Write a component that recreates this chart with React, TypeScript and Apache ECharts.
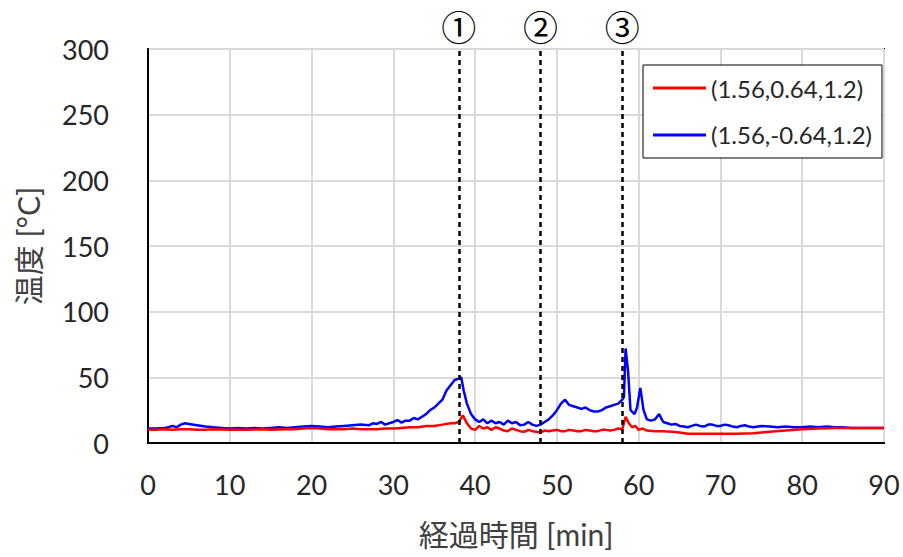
import React, { useEffect, useRef } from "react";
import * as echarts from "echarts";

const seriesNames = ["(1.56,0.64,1.2)", "(1.56,-0.64,1.2)"];
const seriesColors = ["#ff0000", "#0000ff"];

// [minutes, °C]
const redData: [number, number][] = [
  [0, 10], [1, 10], [2, 10.5], [3, 10], [4, 10.5], [5, 10.5], [6, 10], [7, 10],
  [8, 10.5], [10, 10], [12, 10], [14, 10.5], [15, 10], [17, 10.5], [18, 10.5],
  [19, 11], [20, 11.5], [21, 11], [22, 10.5], [24, 10.5], [25, 11], [26, 10.5],
  [28, 10.5], [29, 11], [30, 11], [31, 11.5], [32, 12], [33, 12], [34, 13],
  [35, 13], [36, 14], [37, 15], [37.5, 15], [38, 16], [38.5, 21], [39, 15],
  [39.5, 11], [40, 10], [40.5, 13], [41, 11], [41.5, 12], [42, 10], [42.5, 12],
  [43, 11], [43.5, 9.5], [44, 9], [44.5, 11], [45, 10], [45.5, 9], [46, 8.5],
  [46.5, 10], [47, 9], [47.5, 8.5], [48, 8], [48.5, 9.5], [49, 9], [49.5, 9.5],
  [50, 10], [50.5, 9], [51, 9], [51.5, 10], [52, 9.5], [52.5, 9], [53, 9],
  [53.5, 10], [54, 9.5], [54.5, 9], [55, 9], [55.5, 10], [56, 10], [56.5, 9.5],
  [57, 10], [57.5, 11], [58, 10.5], [58.4, 20], [58.8, 15], [59.2, 12],
  [59.6, 13], [60, 10], [60.5, 11], [61, 9.5], [62, 9], [63, 9], [64, 8.5],
  [65, 8], [66, 7], [68, 7], [70, 7], [72, 7], [74, 7.5], [76, 8.5], [78, 9.5],
  [80, 10.5], [82, 11], [84, 11.5], [86, 11.5], [88, 11.5], [90, 11.5],
];

const blueData: [number, number][] = [
  [0, 11], [1, 11], [2, 11.5], [2.5, 12], [3, 13], [3.5, 12], [4, 14], [4.5, 15],
  [5, 14.5], [6, 13.5], [7, 12.5], [8, 12], [9, 11.5], [10, 11], [11, 11.5],
  [12, 11], [13, 11.5], [14, 11], [15, 11.5], [16, 12], [17, 11.5], [18, 12],
  [19, 12.5], [20, 13], [21, 12.5], [22, 12], [23, 12.5], [24, 13], [25, 13.5],
  [26, 14], [27, 13.5], [27.5, 15], [28, 14.5], [28.5, 16], [29, 14], [29.5, 15],
  [30, 16], [30.5, 17.5], [31, 15.5], [31.5, 17], [32, 17], [32.5, 19], [33, 18],
  [33.5, 20], [34, 22], [34.5, 25], [35, 27], [35.5, 30], [36, 33], [36.5, 40],
  [37, 44], [37.5, 48], [38, 49], [38.3, 50], [38.6, 40], [39, 30], [39.5, 22],
  [40, 18], [40.5, 16], [41, 18], [41.5, 15], [42, 17], [42.5, 15], [43, 16],
  [43.5, 14], [44, 17], [44.5, 15], [45, 16], [45.5, 13.5], [46, 14], [46.5, 16],
  [47, 14], [47.5, 13], [48, 14], [48.5, 16], [49, 18], [49.5, 21], [50, 25],
  [50.5, 30], [51, 33], [51.5, 29], [52, 28], [52.5, 27], [53, 26], [53.5, 27],
  [54, 25], [54.5, 24], [55, 24], [55.5, 25], [56, 27], [56.5, 28], [57, 29],
  [57.5, 30], [58, 33], [58.2, 35], [58.4, 72], [58.7, 55], [59, 25], [59.5, 22],
  [59.8, 27], [60.2, 42], [60.6, 25], [61, 18], [61.5, 17], [62, 18], [62.5, 22],
  [63, 16], [63.5, 15], [64, 14], [64.5, 14.5], [65, 13], [65.5, 12.5], [66, 12],
  [66.5, 13], [67, 14], [67.5, 13], [68, 12.5], [68.5, 14], [69, 14], [69.5, 13],
  [70, 13], [70.5, 14], [71, 13.5], [71.5, 12.5], [72, 12], [72.5, 13], [73, 13.5],
  [73.5, 12.5], [74, 12], [75, 13], [76, 12.5], [77, 12], [78, 12.5], [79, 12],
  [80, 12], [81, 12.5], [82, 12], [83, 12.5], [84, 12], [85, 12], [86, 11.5],
  [88, 11.5], [90, 11.5],
];

const eventTimes = [38, 48, 58];
const eventLabels = ["①", "②", "③"];

const xTitle = "経過時間 [min]";
const yTitle = "温度 [°C]";

const FONT = "Lato, 'Noto Sans CJK JP', sans-serif";

export default function App() {
  const ref = useRef<HTMLDivElement>(null);
  useEffect(() => {
    if (!ref.current) return;
    const chart = echarts.init(ref.current, undefined, { renderer: "svg" });
    chart.setOption({
      animation: false,
      backgroundColor: "#ffffff",
      textStyle: { fontFamily: FONT },
      grid: {
        left: 148,
        right: 19,
        top: 49,
        bottom: 114,
        show: true,
        borderColor: "#000",
        borderWidth: 2,
      },
      legend: {
        left: 643,
        top: 65,
        orient: "vertical",
        padding: [11, 10, 11, 10],
        itemGap: 23,
        itemWidth: 53,
        itemHeight: 3,
        icon: "rect",
        backgroundColor: "#fff",
        borderColor: "#000",
        borderWidth: 1,
        textStyle: { fontSize: 24, color: "#262626", fontFamily: FONT },
        data: seriesNames,
      },
      xAxis: {
        type: "value",
        min: 0,
        max: 90,
        interval: 10,
        name: xTitle,
        nameLocation: "middle",
        nameGap: 76,
        nameTextStyle: { fontSize: 30, color: "#404040", fontFamily: FONT },
        axisLine: { show: true, lineStyle: { color: "#000", width: 2 } },
        axisTick: { show: false },
        axisLabel: { fontSize: 27, color: "#262626", margin: 28 },
        splitLine: { show: true, lineStyle: { color: "#d9d9d9", width: 2 } },
      },
      yAxis: {
        type: "value",
        min: 0,
        max: 300,
        interval: 50,
        name: yTitle,
        nameLocation: "middle",
        nameGap: 105,
        nameTextStyle: { fontSize: 30, color: "#404040", fontFamily: FONT },
        axisLine: { show: true, lineStyle: { color: "#000", width: 2 } },
        axisTick: { show: false },
        axisLabel: { fontSize: 27, color: "#262626", margin: 39 },
        splitLine: { show: true, lineStyle: { color: "#d9d9d9", width: 2 } },
      },
      series: [
        {
          name: seriesNames[0],
          type: "line",
          data: redData,
          showSymbol: false,
          symbol: "none",
          z: 3,
          lineStyle: { color: seriesColors[0], width: 2.5 },
          itemStyle: { color: seriesColors[0] },
          markLine: {
            silent: true,
            symbol: "none",
            lineStyle: { color: "#000", type: [5, 4], width: 2.5 },
            label: {
              show: true,
              position: "end",
              distance: 6,
              fontSize: 35,
              lineHeight: 36,
              color: "#000",
              fontFamily: "'Noto Sans CJK JP', sans-serif",
            },
            data: eventTimes.map((t, i) => ({
              xAxis: t,
              label: { formatter: eventLabels[i] },
            })),
          },
        },
        {
          name: seriesNames[1],
          type: "line",
          data: blueData,
          showSymbol: false,
          symbol: "none",
          z: 2,
          lineStyle: { color: seriesColors[1], width: 2.5 },
          itemStyle: { color: seriesColors[1] },
        },
      ],
    });
    return () => chart.dispose();
  }, []);
  return <div ref={ref} style={{ width: 903, height: 557, position: "absolute", left: 0, top: 0 }} />;
}
